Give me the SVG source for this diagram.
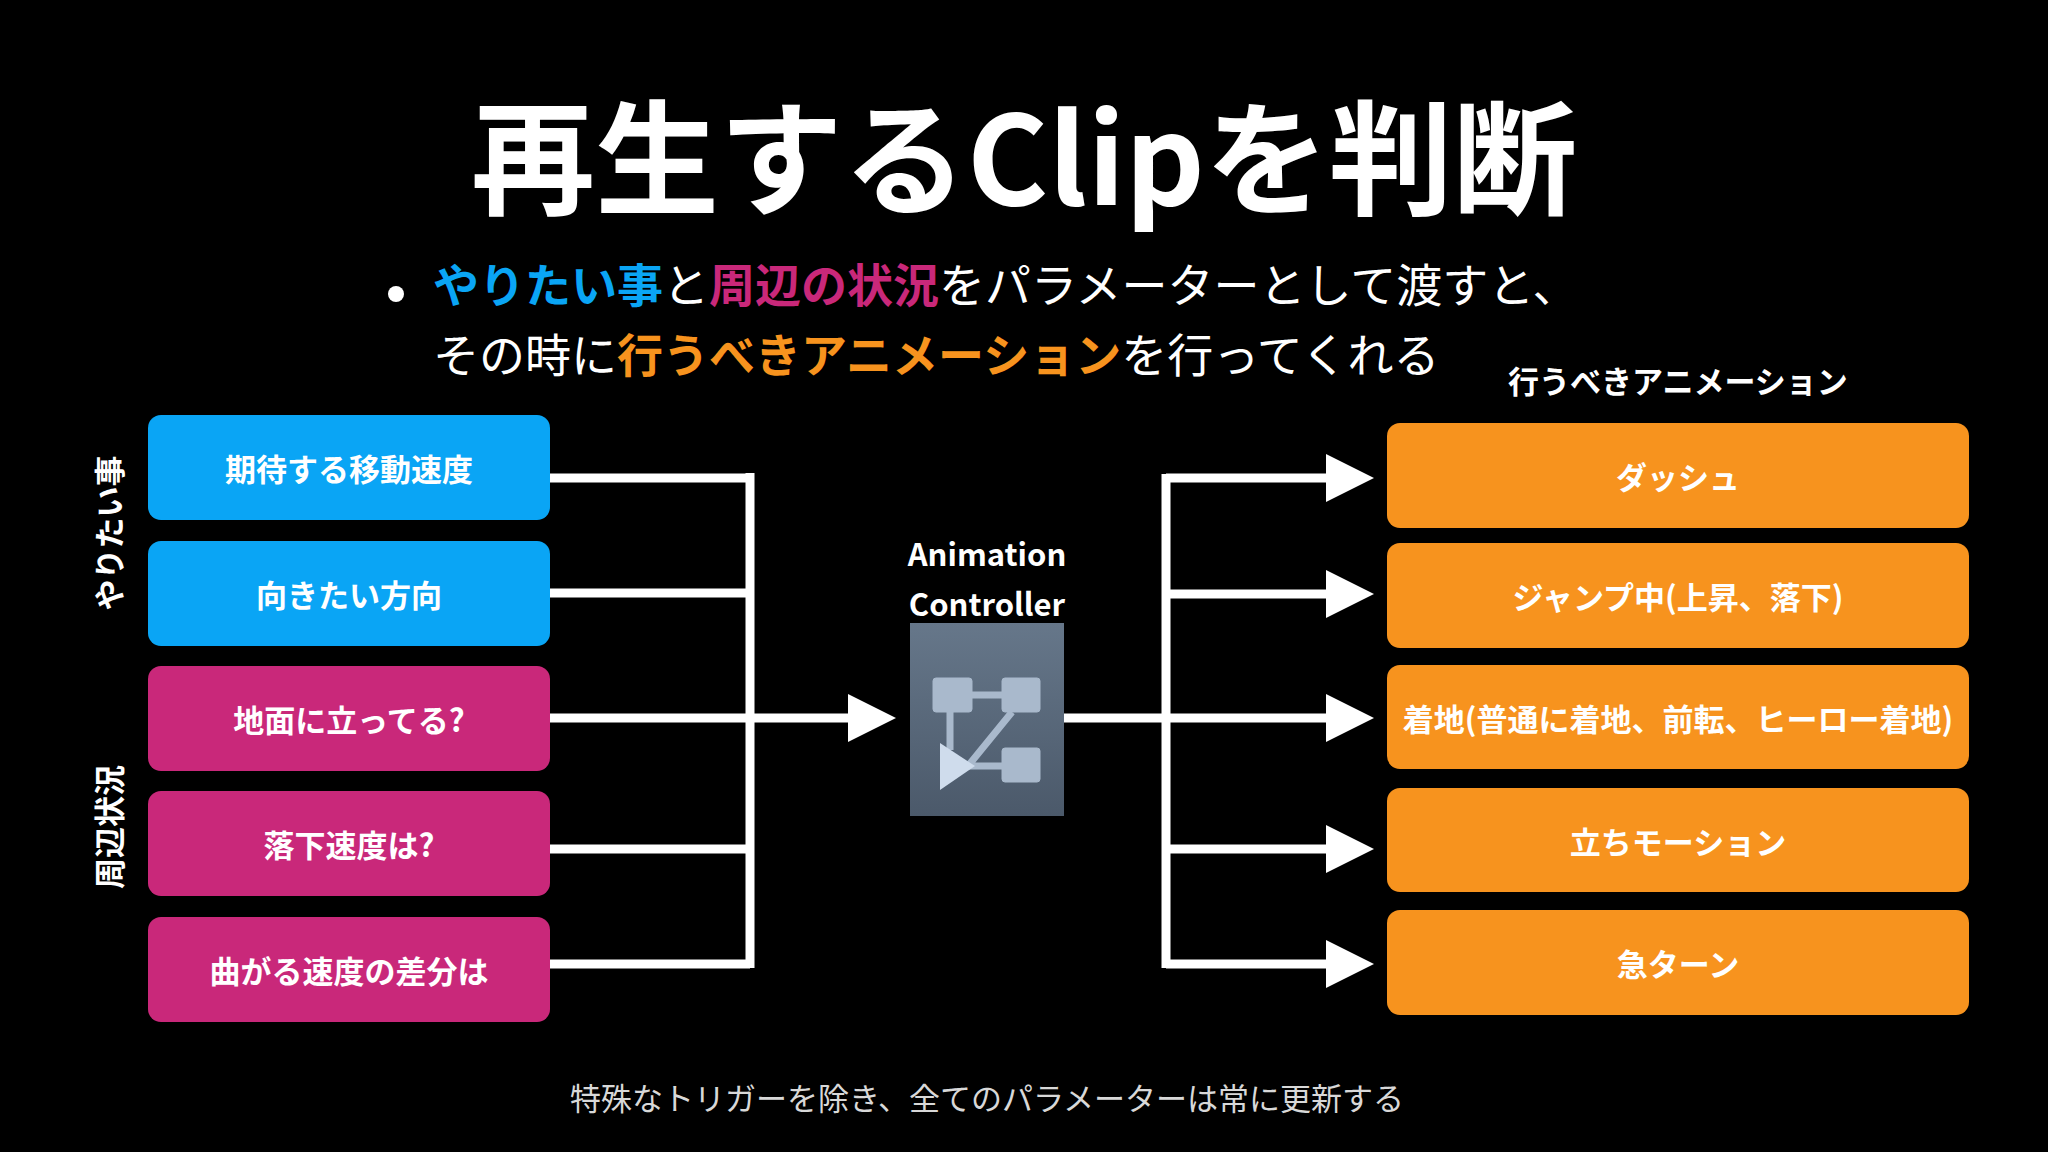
<svg xmlns="http://www.w3.org/2000/svg" width="2048" height="1152" viewBox="0 0 2048 1152">
<style>
text{font-family:"Noto Sans CJK JP","Noto Sans",sans-serif;}
.bt{fill:#fff;font-weight:700;font-size:31px;text-anchor:middle;dominant-baseline:central;}
.blue{fill:#0aa5f5}.pink{fill:#c9287a}.org{fill:#f7931e}
.ln{stroke:#fff;stroke-width:9;fill:none}
.ah{fill:#fff}
</style>
<defs>
<linearGradient id="ig" x1="0" y1="0" x2="0" y2="1"><stop offset="0" stop-color="#66778a"/><stop offset="1" stop-color="#4b596a"/></linearGradient>
</defs>
<rect width="2048" height="1152" fill="#000"/>
<text x="1024" y="205" text-anchor="middle" font-size="124" font-weight="700" fill="#fff">再生するClipを判断</text>
<circle cx="396" cy="294" r="8" fill="#fff"/>
<text x="433" y="302" font-size="46" fill="#fff"><tspan fill="#0aa5f5" font-weight="700">やりたい事</tspan>と<tspan fill="#c9287a" font-weight="700">周辺の状況</tspan>をパラメーターとして渡すと、</text>
<text x="433" y="372" font-size="46" fill="#fff">その時に<tspan fill="#f7931e" font-weight="700">行うべきアニメーション</tspan>を行ってくれる</text>
<text x="107" y="533" transform="rotate(-90 107 533)" class="bt">やりたい事</text>
<text x="107" y="827" transform="rotate(-90 107 827)" class="bt">周辺状況</text>
<g id="l1"><rect x="148" y="415" width="402" height="105" rx="13" class="blue"/><text x="349" y="467" class="bt">期待する移動速度</text></g>
<g id="l2"><rect x="148" y="541" width="402" height="105" rx="13" class="blue"/><text x="349" y="593" class="bt">向きたい方向</text></g>
<g id="l3"><rect x="148" y="666" width="402" height="105" rx="13" class="pink"/><text x="349" y="718" class="bt">地面に立ってる?</text></g>
<g id="l4"><rect x="148" y="791" width="402" height="105" rx="13" class="pink"/><text x="349" y="843" class="bt">落下速度は?</text></g>
<g id="l5"><rect x="148" y="917" width="402" height="105" rx="13" class="pink"/><text x="349" y="969" class="bt">曲がる速度の差分は</text></g>
<text x="1678" y="379" class="bt" font-size="33">行うべきアニメーション</text>
<g id="r1"><rect x="1387" y="423" width="582" height="105" rx="13" class="org"/><text x="1678" y="475" class="bt">ダッシュ</text></g>
<g id="r2"><rect x="1387" y="543" width="582" height="105" rx="13" class="org"/><text x="1678" y="595" class="bt">ジャンプ中(上昇、落下)</text></g>
<g id="r3"><rect x="1387" y="665" width="582" height="104" rx="13" class="org"/><text x="1678" y="717" class="bt">着地(普通に着地、前転、ヒーロー着地)</text></g>
<g id="r4"><rect x="1387" y="788" width="582" height="104" rx="13" class="org"/><text x="1678" y="840" class="bt">立ちモーション</text></g>
<g id="r5"><rect x="1387" y="910" width="582" height="105" rx="13" class="org"/><text x="1678" y="962" class="bt">急ターン</text></g>
<g id="ctrl">
<text x="987" y="552" class="bt" font-size="34">Animation</text>
<text x="987" y="602" class="bt" font-size="34">Controller</text>
<rect x="910" y="623" width="154" height="193" fill="url(#ig)"/>
<g fill="#a9b9cc" stroke="#a9b9cc">
<rect x="933" y="678" width="39" height="34" rx="3"/>
<rect x="1002" y="678" width="38" height="34" rx="3"/>
<rect x="1002" y="748" width="38" height="34" rx="3"/>
<path d="M950 712V750M972 695H1002M1012 712L968 766M968 766H1002" stroke-width="7" fill="none"/>
<polygon points="940,743 940,790 975,766" fill="#cfdcec" stroke="none"/>
</g>
</g>
<g id="connectors">
<path class="ln" d="M550 478H750M550 593H750M550 718H750M550 849H750M550 964H750M750 473V968M750 718H860"/>
<polygon class="ah" points="848,694 896,718 848,742"/>
<path class="ln" d="M1064 718H1166M1166 474V968M1166 478H1330M1166 594H1330M1166 718H1330M1166 849H1330M1166 964H1330"/>
<polygon class="ah" points="1326,454 1374,478 1326,502"/>
<polygon class="ah" points="1326,570 1374,594 1326,618"/>
<polygon class="ah" points="1326,694 1374,718 1326,742"/>
<polygon class="ah" points="1326,825 1374,849 1326,873"/>
<polygon class="ah" points="1326,940 1374,964 1326,988"/>
</g>
<text x="987" y="1096" text-anchor="middle" dominant-baseline="central" font-size="31" fill="#d8d8d8">特殊なトリガーを除き、全てのパラメーターは常に更新する</text>
</svg>
